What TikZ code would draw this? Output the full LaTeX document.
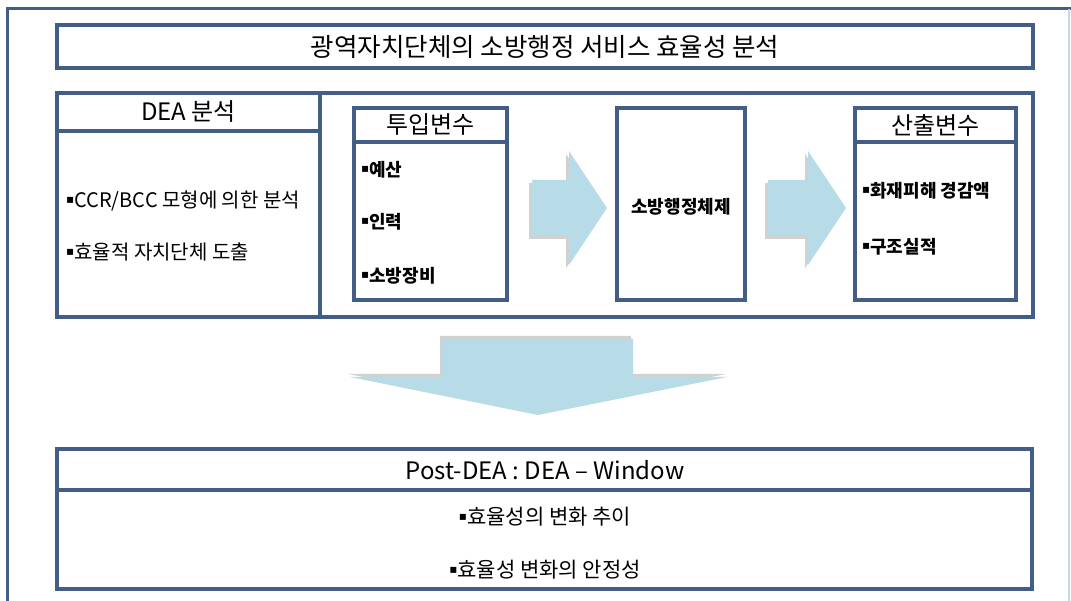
\documentclass[tikz,border=0pt]{standalone}
\usepackage{fontspec}
\setmainfont{Noto Sans CJK KR}
\newfontfamily\dv{DejaVu Sans}
\definecolor{frame}{HTML}{435E86}
\definecolor{arrowfill}{HTML}{B7DCE7}
\definecolor{lightedge}{HTML}{C8D6E6}
\newcommand{\bul}{\raisebox{0.22em}{\dv\fontsize{12}{12}\selectfont ▪}}
\tikzset{
  box/.style={draw=frame, line width=3.2pt, fill=white, inner sep=0pt},
  divider/.style={draw=frame, line width=3.2pt},
  hdr/.style={font=\fontsize{24}{26}\selectfont, inner sep=0pt},
  item/.style={font=\fontsize{18}{20}\selectfont, anchor=west, inner sep=0pt},
  itemb/.style={font=\bfseries\fontsize{18}{20}\selectfont, anchor=west, inner sep=0pt},
  bottomitem/.style={font=\fontsize{21}{23}\selectfont, inner sep=0pt},
  arrowshape/.style={fill=arrowfill},
  arrowshadow/.style={fill=black, opacity=0.18}
}
\begin{document}
\begin{tikzpicture}[x=1pt,y=-1pt]
\useasboundingbox (0,0) rectangle (1071,601);
\fill[white] (0,0) rectangle (1071,601);
% outer frame
\draw[frame, line width=3pt] (7,601) -- (7,9) -- (1071,9);
\draw[lightedge, line width=1.2pt] (1069,9) -- (1069,601);

% title
\node[box, minimum width=976pt, minimum height=43pt] (title) at (545,46.5) {};
\node[hdr, font=\fontsize{25.5}{27}\selectfont] (titletext) at (title.center) {광역자치단체의 소방행정 서비스 효율성 분석};

% main box
\node[box, minimum width=976pt, minimum height=224pt] (main) at (545,205) {};
\coordinate (divtop) at (320,93);
\coordinate (divbot) at (320,317);
\draw[divider] (divtop) -- (divbot);
\coordinate (deahl) at (57,131);
\coordinate (deahr) at (320,131);
\draw[divider] (deahl) -- (deahr);
\node[hdr] (deahead) at (188.5,112) {DEA 분석};
\node[item, font=\fontsize{20}{22}\selectfont] (dea1) at (66,201) {\bul CCR/BCC 모형에 의한 분석};
\node[item, font=\fontsize{20}{22}\selectfont] (dea2) at (66,252) {\bul 효율적 자치단체 도출};

% input box
\node[box, minimum width=153pt, minimum height=192pt] (inbox) at (430.5,204) {};
\coordinate (inhl) at (354,142);
\coordinate (inhr) at (507,142);
\draw[divider] (inhl) -- (inhr);
\node[hdr] (inhead) at (430.5,125) {투입변수};
\node[itemb] (in1) at (361,170) {\bul 예산};
\node[itemb] (in2) at (361,222) {\bul 인력};
\node[itemb] (in3) at (361,276) {\bul 소방장비};

% system box
\node[box, minimum width=128pt, minimum height=192pt] (sys) at (681,204) {};
\node[font=\bfseries\fontsize{18}{20}\selectfont, inner sep=0pt] (systext) at (681,207) {소방행정체제};

% output box
\node[box, minimum width=161pt, minimum height=192pt] (outbox) at (935.5,204) {};
\coordinate (outhl) at (855,142);
\coordinate (outhr) at (1016,142);
\draw[divider] (outhl) -- (outhr);
\node[hdr] (outhead) at (935.5,125) {산출변수};
\node[itemb] (out1) at (862,191) {\bul 화재피해 경감액};
\node[itemb] (out2) at (862,247) {\bul 구조실적};

% right arrows
\foreach \sx/\hx/\tx in {532/569/607, 768/808/846}{
  \fill[arrowshadow] (\sx-3,183) -- (\hx-3,183) -- (\hx-3,154) -- (\tx-3,211) -- (\hx-3,268) -- (\hx-3,239) -- (\sx-3,239) -- cycle;
  \fill[arrowshape] (\sx,180) -- (\hx,180) -- (\hx,151) -- (\tx,208) -- (\hx,265) -- (\hx,236) -- (\sx,236) -- cycle;
}

% down arrow
\fill[arrowshadow] (440,336) -- (631,336) -- (631,374) -- (726,374) -- (538,412) -- (348,374) -- (440,374) -- cycle;
\fill[arrowshape] (442,339) -- (633,339) -- (633,377) -- (727,377) -- (538,415) -- (350,377) -- (442,377) -- cycle;

% bottom box
\node[box, minimum width=975pt, minimum height=140pt] (bottom) at (544.5,519) {};
\coordinate (bothl) at (57,490);
\coordinate (bothr) at (1032,490);
\draw[divider] (bothl) -- (bothr);
\node[hdr] (bothead) at (545,470) {Post-DEA : DEA – Window};
\node[bottomitem] (bot1) at (545,517) {\bul 효율성의 변화 추이};
\node[bottomitem] (bot2) at (545,570) {\bul 효율성 변화의 안정성};
\end{tikzpicture}
\end{document}
